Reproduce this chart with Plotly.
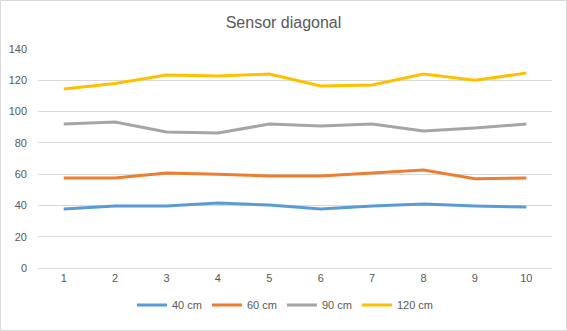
import plotly.graph_objects as go

categories = ["1", "2", "3", "4", "5", "6", "7", "8", "9", "10"]
s40 = [37.7, 39.6, 39.6, 41.5, 40.3, 37.7, 39.6, 40.9, 39.6, 39.0]
s60 = [57.5, 57.5, 60.7, 60.0, 58.8, 58.8, 60.7, 62.6, 57.0, 57.5]
s90 = [92.0, 93.3, 87.0, 86.3, 92.0, 90.8, 92.0, 87.6, 89.5, 92.0]
s120 = [114.4, 118.0, 123.3, 122.7, 124.0, 116.3, 117.0, 124.0, 120.0, 124.6]
series_names = ["40 cm", "60 cm", "90 cm", "120 cm"]
colors = ["#5B9BD5", "#ED7D31", "#A5A5A5", "#FFC000"]

fig = go.Figure()
for name, vals, c in zip(series_names, [s40, s60, s90, s120], colors):
    fig.add_trace(go.Scatter(x=categories, y=vals, mode="lines", name=name,
                             line=dict(color=c, width=3)))

L, R, T, B = 38, 15, 49, 63
W, H = 567, 331
pw, ph = W - L - R, H - T - B

fig.update_layout(
    width=W, height=H,
    margin=dict(l=L, r=R, t=T, b=B),
    paper_bgcolor="white", plot_bgcolor="white",
    font=dict(family="Liberation Sans, Arial, sans-serif", size=11, color="#595959"),
    title=dict(text="Sensor diagonal", x=0.5, xanchor="center", y=1 - 22 / H, yanchor="middle",
               font=dict(size=16, color="#595959")),
    showlegend=True,
    legend=dict(orientation="h", x=(285 - L) / pw, xanchor="center", y=(268 - 305) / ph,
                yanchor="middle", font=dict(size=11, color="#595959"),
                itemwidth=30, traceorder="normal"),
    xaxis=dict(type="category", range=[-0.5, 9.5], showgrid=False, showline=True,
               linecolor="#D9D9D9", linewidth=1, ticks="", tickfont=dict(size=11, color="#595959"),
               zeroline=False, automargin=False),
    yaxis=dict(range=[0, 140], dtick=20, showgrid=True, gridcolor="#D9D9D9", gridwidth=1,
               zeroline=False, showline=False, ticks="", tickfont=dict(size=11, color="#595959"),
               ticklabelstandoff=10, automargin=False),
    shapes=[dict(type="rect", xref="paper", yref="paper",
                 x0=(0.5 - L) / pw, x1=(W - 0.5 - L) / pw,
                 y0=(268 - (H - 0.5)) / ph, y1=(268 - 0.5) / ph,
                 line=dict(color="#D9D9D9", width=1), fillcolor="rgba(0,0,0,0)", layer="below")],
)

fig.write_html("out.html")
